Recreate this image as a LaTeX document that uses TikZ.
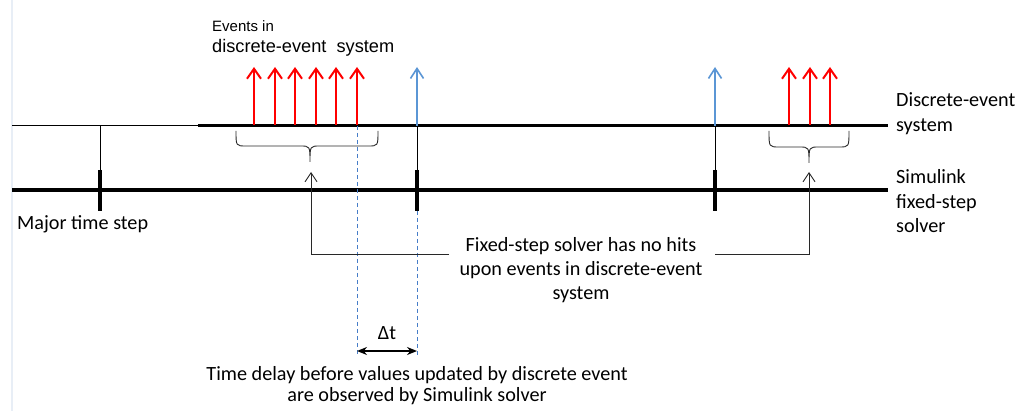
\documentclass[tikz,border=0pt]{standalone}
\usepackage{fontspec}
\setmainfont{Carlito}
\newfontfamily\arialf{Liberation Sans}
\usetikzlibrary{arrows.meta}
\definecolor{evred}{RGB}{255,0,0}
\definecolor{evblue}{RGB}{91,150,213}
\definecolor{dblue}{RGB}{70,125,200}
\definecolor{conngray}{RGB}{40,40,40}
\definecolor{edge}{RGB}{232,238,246}
\begin{document}
\begin{tikzpicture}[x=1pt,y=-1pt,
  lbl/.style={inner sep=0pt, font=\fontsize{20.2}{24}\selectfont},
  redarrow/.style={evred, line width=2pt, -{Straight Barb[length=10pt,width=14pt,line width=2pt]}},
  bluearrow/.style={evblue, line width=1.6pt, -{Straight Barb[length=10pt,width=13pt,line width=1.6pt]}},
  tick/.style={line width=4pt},
  thinline/.style={line width=1pt},
  dashline/.style={dblue, line width=0.9pt, dash pattern=on 4pt off 3pt},
  conn/.style={conngray, line width=0.9pt, -{Straight Barb[length=9pt,width=12pt,line width=0.9pt]}},
  brace/.style={conngray, line width=0.9pt},
  dtarrow/.style={line width=1.5pt, {Stealth[length=10pt,width=8pt]}-{Stealth[length=10pt,width=8pt]}}
]
\useasboundingbox (0,0) rectangle (1019,411);
\fill[white] (0,0) rectangle (1019,411);
\draw[edge, line width=1.5pt] (12,0) -- (12,411);

% timelines
\coordinate (deL) at (12,126);
\coordinate (deM) at (198,126);
\coordinate (deR) at (888,126);
\coordinate (skL) at (12,190);
\coordinate (skR) at (888,190);
\draw[thinline] (deL) -- (deM);
\draw[line width=3pt] (deM) -- (deR);
\draw[line width=3.5pt] (skL) -- (skR);

% major time steps
\foreach \n/\x in {a/100, b/417, c/715} {
  \coordinate (top\n) at (\x,126);
  \coordinate (tt\n) at (\x,170);
  \coordinate (tb\n) at (\x,211);
  \draw[tick] (tt\n) -- (tb\n);
  \draw[thinline] (top\n) -- (tt\n);
}

% red event arrows
\foreach \x [count=\i] in {254,275,295,316,336,357,789,810,830} {
  \coordinate (rb\i) at (\x,125);
  \coordinate (rt\i) at (\x,67);
  \draw[redarrow] (rb\i) -- (rt\i);
}
% blue arrows
\coordinate (bt1) at (417,67);
\coordinate (bt2) at (715,67);
\draw[bluearrow] (topb) -- (bt1);
\draw[bluearrow] (topc) -- (bt2);

% braces
\draw[brace] (236,131) .. controls (236,146) .. (246,146) -- (300,146)
  .. controls (310,146) .. (310,162) .. controls (310,146) .. (320,146)
  -- (368,146) .. controls (378,146) .. (378,131);
\draw[brace] (769,131) .. controls (769,147) .. (779,147) -- (799,147)
  .. controls (809,147) .. (809,163) .. controls (809,147) .. (819,147)
  -- (839,147) .. controls (849,147) .. (849,131);

% dashed lines and delta t
\coordinate (d1t) at (357,126);
\coordinate (d1b) at (357,355);
\coordinate (d2b) at (417,355);
\draw[dashline] (d1t) -- (d1b);
\draw[dashline] (tbb) -- (d2b);
\coordinate (dtl) at (357,351);
\coordinate (dtr) at (417,351);
\draw[dtarrow] (dtl) -- (dtr);
\node[lbl, anchor=base] (dt) at (387,339) {Δt};

% texts (multi-line nodes: base anchor = last line baseline)
\node[inner sep=0pt, anchor=base west, font=\arialf\fontsize{15}{18}\selectfont] (ev1) at (212,32) {Events in};
\node[inner sep=0pt, anchor=base west, font=\arialf\fontsize{18.2}{21}\selectfont] (ev2) at (212,53) {discrete-event\ \ system};
\node[lbl, anchor=base west] (mts) at (17,230) {Major time step};
\node[lbl, anchor=base west, align=left, font=\fontsize{20.2}{25}\selectfont] (des) at (896,132) {Discrete-event\\system};
\node[lbl, anchor=base west, align=left, font=\fontsize{20.2}{24.5}\selectfont] (sfs) at (896,233) {Simulink\\fixed-step\\solver};
\node[lbl, anchor=base, align=center] (fix) at (581,300) {Fixed-step solver has no hits\\upon events in discrete-event\\system};
\node[lbl, anchor=base, align=center, font=\fontsize{20.2}{20.5}\selectfont] (tdl) at (417,401) {Time delay before values updated by discrete event\\are observed by Simulink solver};

% connectors from label to braces
\coordinate (cl1) at (449,254);
\coordinate (cl2) at (311,254);
\coordinate (cl3) at (311,172);
\coordinate (cr1) at (715,254);
\coordinate (cr2) at (809,254);
\coordinate (cr3) at (809,172);
\draw[conn] (cl1) -- (cl2) -- (cl3);
\draw[conn] (cr1) -- (cr2) -- (cr3);
\end{tikzpicture}
\end{document}
